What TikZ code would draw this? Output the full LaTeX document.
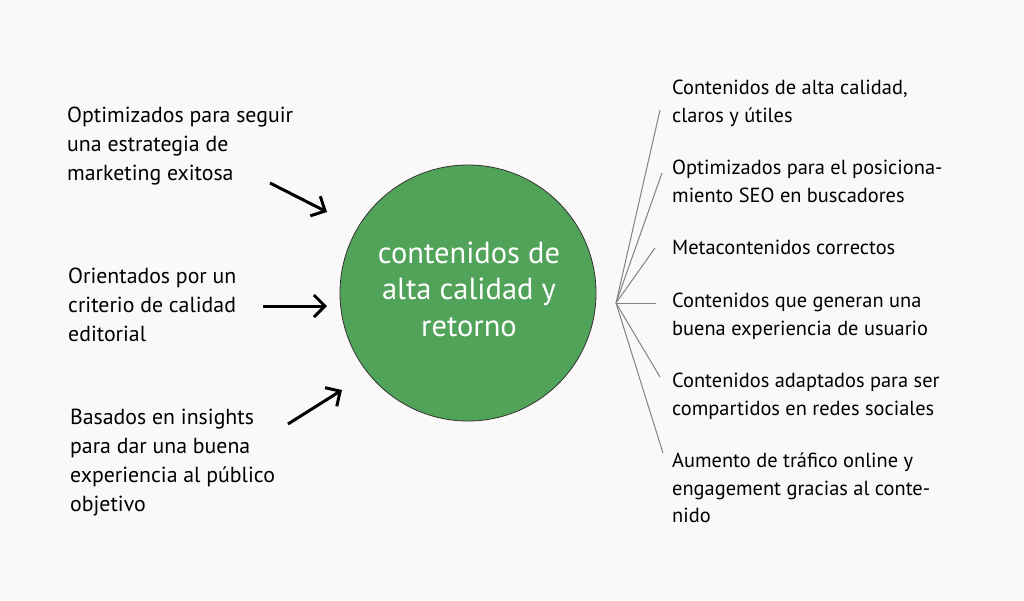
\documentclass[tikz,border=0pt]{standalone}
\usepackage{fontspec}
\setmainfont{PT Sans}
\usepackage{tikz}
\usetikzlibrary{arrows.meta,positioning,backgrounds}
\definecolor{bg}{RGB}{250,248,248}
\definecolor{ballgreen}{RGB}{82,163,90}
\definecolor{fangray}{RGB}{130,130,130}
\tikzset{
    lefttext/.style={
           anchor=north west,
           align=left,
           inner sep=0pt,
           font=\fontsize{21.8}{29}\selectfont,
           },
    righttext/.style={
           anchor=north west,
           align=left,
           inner sep=0pt,
           font=\fontsize{20.4}{27.5}\selectfont,
           },
    pil/.style={
           -{Straight Barb[length=11pt,width=22pt,line width=3pt]},
           line width=3pt,
           black,
           },
    fan/.style={
           draw=fangray,
           line width=1pt,
           },
    ball/.style={
           circle,
           draw=black!80, line width=0.8pt,
           fill=ballgreen,
           minimum size=256pt,
           align=center,
           text=white,
           font=\fontsize{30.5}{36.5}\selectfont,
           }
}

\begin{document}
\begin{tikzpicture}[x=1pt,y=-1pt]
\fill[bg] (0,0) rectangle (1024,600);
\useasboundingbox (0,0) rectangle (1024,600);
% centre
\node[ball] (c) at (468,293) {};
\node[align=center,text=white,font=\fontsize{30.5}{36.5}\selectfont] (ctext) at (469,289) {contenidos de\\alta calidad y\\retorno};
% left texts
\node[lefttext] (l1) at (67,107) {Optimizados para seguir\\una estrategia de\\marketing exitosa};
\node[lefttext] (l2) at (68,268) {Orientados por un\\criterio de calidad\\editorial};
\node[lefttext] (l3) at (70,409) {Basados en insights\\para dar una buena\\experiencia al público\\objetivo};
\coordinate (a1s) at (270,183);
\coordinate (a1e) at (327,212);
\coordinate (a2s) at (263,306);
\coordinate (a2e) at (327,306);
\coordinate (a3s) at (288,424);
\coordinate (a3e) at (342,390);
\draw[pil] (a1s) -- (a1e);
\draw[pil] (a2s) -- (a2e);
\draw[pil] (a3s) -- (a3e);
% right texts
\node[righttext] (r1) at (672,80) {Contenidos de alta calidad,\\claros y útiles};
\node[righttext] (r2) at (672,160) {Optimizados para el posiciona-\\miento SEO en buscadores};
\node[righttext] (r3) at (672,240) {Metacontenidos correctos};
\node[righttext] (r4) at (672,293) {Contenidos que generan una\\buena experiencia de usuario};
\node[righttext] (r5) at (672,373) {Contenidos adaptados para ser\\compartidos en redes sociales};
\node[righttext] (r6) at (672,453) {Aumento de tráfico online y\\engagement gracias al conte-\\nido};
% fan
\coordinate (hub) at (616,303);
\coordinate (f1) at (660,110);
\coordinate (f2) at (662,173);
\coordinate (f3) at (655,248);
\coordinate (f4) at (656,303);
\coordinate (f5) at (660,377);
\coordinate (f6) at (663,453);
\foreach \i in {1,...,6}
    \draw[fan] (hub) -- (f\i);
\end{tikzpicture}
\end{document}
